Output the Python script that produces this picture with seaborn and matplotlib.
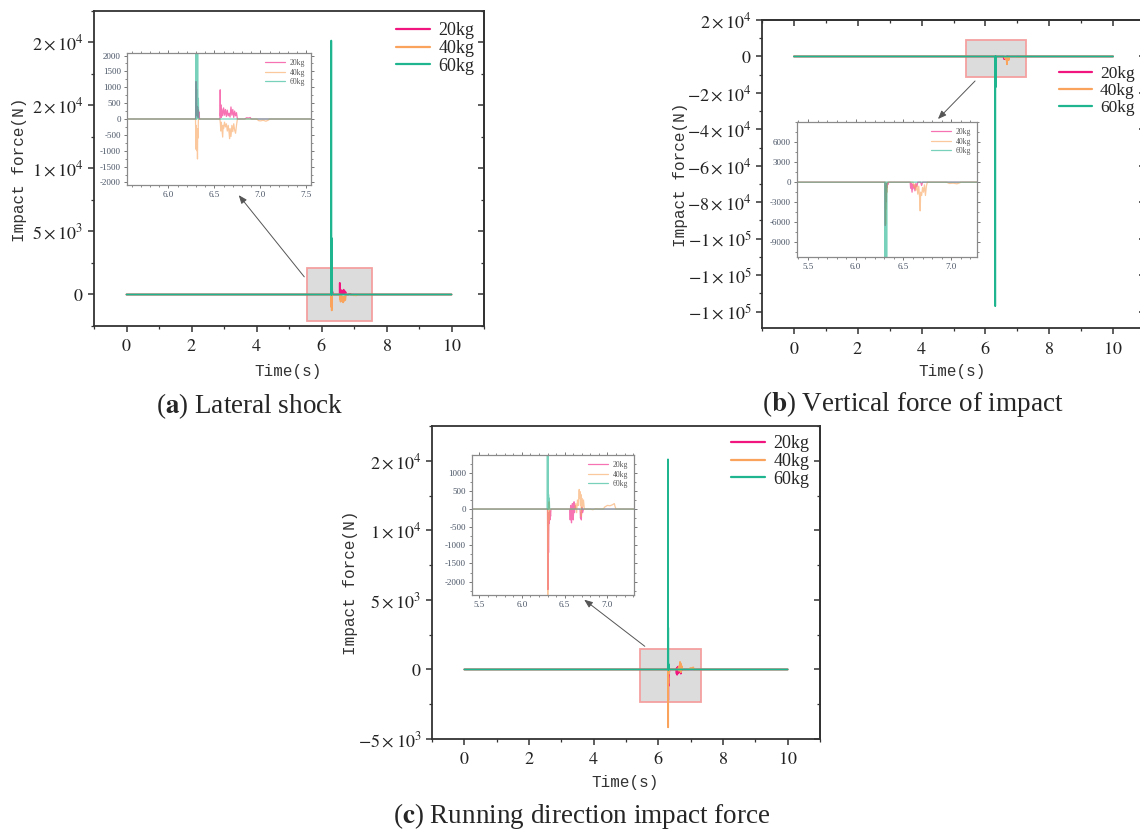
import matplotlib
matplotlib.use("Agg")
import matplotlib.pyplot as plt
import seaborn as sns
from matplotlib.patches import Rectangle, FancyArrowPatch
from matplotlib.ticker import MultipleLocator, FixedLocator, NullFormatter

sns.set_style("ticks")
plt.rcParams["font.family"] = ["Liberation Serif", "DejaVu Serif"]
plt.rcParams["mathtext.fontset"] = "stix"
plt.rcParams["axes.unicode_minus"] = True

# ---------------- data (time s, force N) ----------------
labels = ["20kg", "40kg", "60kg"]
colors = ["#f0157f", "#f9a35c", "#1fb58f"]

a_20 = [(0, 0), (6.295, 0), (6.300, 1180), (6.303, 200), (6.306, 950), (6.309, 100), (6.312, 400),
        (6.315, 150), (6.318, 380), (6.322, 50), (6.326, 280), (6.330, 60), (6.334, 220), (6.338, 0),
        (6.560, 0), (6.563, 920), (6.566, 100), (6.570, 450), (6.575, 50), (6.580, 320), (6.590, 100),
        (6.600, 350), (6.610, 120), (6.620, 300), (6.630, 80), (6.640, 280), (6.650, 100), (6.660, 180),
        (6.670, 60), (6.680, 380), (6.690, 120), (6.700, 300), (6.710, 50), (6.720, 250), (6.730, 100),
        (6.740, 200), (6.750, 0), (6.830, 0), (6.850, 40), (6.870, 30), (6.890, 45), (6.900, 0), (10, 0)]
a_40 = [(0, 0), (6.295, 0), (6.298, -950), (6.301, -200), (6.304, -800), (6.307, -300), (6.310, -1000),
        (6.313, -500), (6.316, -1260), (6.319, -300), (6.322, -600), (6.326, 0), (6.560, 0),
        (6.565, -150), (6.570, -380), (6.575, -100), (6.580, -250), (6.590, -570), (6.595, -200),
        (6.600, -300), (6.610, -100), (6.620, -250), (6.630, -150), (6.640, -380), (6.650, -200),
        (6.660, -450), (6.665, -620), (6.670, -300), (6.680, -550), (6.690, -200), (6.700, -400),
        (6.710, -150), (6.720, -350), (6.730, -450), (6.740, -200), (6.750, 0), (6.960, 0),
        (6.980, -50), (7.000, -60), (7.030, -40), (7.060, -70), (7.090, -30), (7.100, 0), (10, 0)]
a_60 = [(0, 0), (6.297, 0), (6.300, 20150), (6.303, 0), (6.306, 4500), (6.309, 0), (6.312, 3000),
        (6.315, 200), (6.318, 2500), (6.321, 100), (6.326, 650), (6.330, 0), (10, 0)]

b_20 = [(0, 0), (6.305, 0), (6.310, -6500), (6.313, -1000), (6.316, -3000), (6.319, -500),
        (6.322, -1500), (6.326, -200), (6.330, -800), (6.335, -100), (6.340, -300), (6.345, 0),
        (6.570, 0), (6.575, -900), (6.580, -200), (6.590, -1500), (6.595, -300), (6.600, -1000),
        (6.610, -400), (6.620, -1300), (6.630, -200), (6.640, -700), (6.650, 0), (6.680, 0),
        (6.690, -500), (6.700, 0), (10, 0)]
b_40 = [(0, 0), (6.310, 0), (6.313, -6300), (6.316, -2000), (6.320, -4000), (6.324, -500),
        (6.328, -1500), (6.332, 0), (6.600, 0), (6.610, -800), (6.620, -300), (6.630, -1200),
        (6.640, -500), (6.650, -1800), (6.660, -600), (6.670, -2500), (6.675, -4300), (6.680, -1500),
        (6.690, -2000), (6.700, -800), (6.710, -1500), (6.720, -400), (6.730, -2000), (6.740, -600),
        (6.750, 0), (6.950, 0), (6.980, -200), (7.020, -150), (7.060, -250), (7.090, -100),
        (7.100, 0), (10, 0)]
b_60 = [(0, 0), (6.304, 0), (6.307, -137000), (6.310, 0), (6.321, 0), (6.324, -16800),
        (6.327, 0), (10, 0)]

c_20 = [(0, 0), (6.300, 0), (6.305, -2220), (6.308, -300), (6.312, -1200), (6.316, -100),
        (6.320, -400), (6.324, -50), (6.328, -300), (6.332, -100), (6.336, -200), (6.340, 0),
        (6.560, 0), (6.565, -300), (6.570, 100), (6.575, -150), (6.580, -380), (6.585, -100),
        (6.590, 150), (6.595, -50), (6.600, -300), (6.610, 200), (6.615, -100), (6.620, 100),
        (6.630, 0), (6.680, 0), (6.685, -250), (6.690, -100), (6.695, -300), (6.700, 50),
        (6.710, -100), (6.720, 0), (10, 0)]
c_40 = [(0, 0), (6.300, 0), (6.303, -4160), (6.306, -600), (6.310, -1000), (6.314, -200),
        (6.318, 200), (6.322, -300), (6.326, 0), (6.620, 0), (6.630, 150), (6.640, -100),
        (6.650, 250), (6.660, 100), (6.670, 540), (6.675, 300), (6.680, 480), (6.685, 100),
        (6.690, 400), (6.695, -200), (6.700, 300), (6.710, 50), (6.720, 250), (6.730, 0),
        (6.800, 0), (6.830, -20), (6.860, 10), (6.900, 0), (6.950, 0), (6.970, 60), (7.000, 100),
        (7.030, 90), (7.060, 120), (7.080, 150), (7.090, 60), (7.100, 0), (10, 0)]
c_60 = [(0, 0), (6.295, 0), (6.298, 15100), (6.302, 0), (6.305, 3000), (6.309, 0), (6.312, 400),
        (6.316, 0), (6.320, 300), (6.325, 0), (10, 0)]

# tick labels
a_yticks = [0, 5000, 10000, 15000, 20000]
a_ylabels = ["$0$", r"$5\times10^{3}$", r"$1\times10^{4}$", r"$2\times10^{4}$", r"$2\times10^{4}$"]
b_yticks = [20000, 0, -20000, -40000, -60000, -80000, -100000, -120000, -140000]
b_ylabels = [r"$2\times10^{4}$", "$0$", r"$-2\times10^{4}$", r"$-4\times10^{4}$", r"$-6\times10^{4}$",
             r"$-8\times10^{4}$", r"$-1\times10^{5}$", r"$-1\times10^{5}$", r"$-1\times10^{5}$"]
c_yticks = [-5000, 0, 5000, 10000, 15000]
c_ylabels = [r"$-5\times10^{3}$", "$0$", r"$5\times10^{3}$", r"$1\times10^{4}$", r"$2\times10^{4}$"]
main_xticks = [0, 2, 4, 6, 8, 10]
a_in_yticks = [-2000, -1500, -1000, -500, 0, 500, 1000, 1500, 2000]
b_in_yticks = [-9000, -6000, -3000, 0, 3000, 6000]
c_in_yticks = [-2000, -1500, -1000, -500, 0, 500, 1000]
a_in_xticks = [6.0, 6.5, 7.0, 7.5]
bc_in_xticks = [5.5, 6.0, 6.5, 7.0]

W, H = 1140, 831
fig = plt.figure(figsize=(W / 100, H / 100), dpi=100)


def rect(x0, y0, x1, y1):
    return [x0 / W, 1 - y1 / H, (x1 - x0) / W, (y1 - y0) / H]


def draw(ax, series, lw, alpha):
    for s, lab, col in zip(series, labels, colors):
        t = [p[0] for p in s]
        v = [p[1] for p in s]
        sns.lineplot(x=t, y=v, ax=ax, color=col, lw=lw, alpha=alpha, label=lab,
                     estimator=None, sort=False, legend=False)
    ax.set_xlabel("")
    ax.set_ylabel("")


ident = (lambda x: x, lambda x: x)


def style_main(ax, yticks, ylabels, ylim, yminor, top_ticks=False):
    ax.set_xlim(-1, 11)
    ax.set_ylim(*ylim)
    ax.xaxis.set_major_locator(FixedLocator(main_xticks))
    ax.set_xticklabels([f"${t}$" for t in main_xticks])
    ax.xaxis.set_minor_locator(MultipleLocator(1))
    ax.yaxis.set_major_locator(FixedLocator(yticks))
    ax.set_yticklabels(ylabels)
    ax.yaxis.set_minor_locator(MultipleLocator(yminor))
    for sp in ax.spines.values():
        sp.set_visible(True)
        sp.set_color("#333333")
        sp.set_linewidth(1.3)
    ax.tick_params(axis="both", which="major", direction="out", length=4, width=1.1,
                   labelsize=13, colors="#333333", labelcolor="#222222")
    ax.tick_params(axis="both", which="minor", direction="out", length=2.5, width=0.9, colors="#333333")
    ax.tick_params(axis="x", which="both", pad=5, top=False)
    ax.tick_params(axis="y", which="both", right=False)
    # inward ticks on the right side
    sy = ax.secondary_yaxis("right", functions=ident)
    sy.yaxis.set_major_locator(FixedLocator(yticks))
    sy.yaxis.set_minor_locator(MultipleLocator(yminor))
    sy.yaxis.set_major_formatter(NullFormatter())
    sy.tick_params(which="major", direction="in", length=4, width=1.1, colors="#333333")
    sy.tick_params(which="minor", direction="in", length=2.5, width=0.9, colors="#333333")
    sy.spines["right"].set_color("#333333")
    sy.spines["right"].set_linewidth(1.3)
    if top_ticks:
        sx = ax.secondary_xaxis("top", functions=ident)
        sx.xaxis.set_major_locator(FixedLocator(main_xticks))
        sx.xaxis.set_minor_locator(MultipleLocator(1))
        sx.xaxis.set_major_formatter(NullFormatter())
        sx.tick_params(which="major", direction="in", length=4, width=1.1, colors="#333333")
        sx.tick_params(which="minor", direction="in", length=2.5, width=0.9, colors="#333333")
        sx.spines["top"].set_color("#333333")
        sx.spines["top"].set_linewidth(1.3)


def style_inset(ax, xlim, ylim, xticks, yticks, xminor, yminor):
    ax.set_xlim(*xlim)
    ax.set_ylim(*ylim)
    ax.xaxis.set_major_locator(FixedLocator(xticks))
    ax.set_xticklabels([f"{t:.1f}" for t in xticks])
    ax.yaxis.set_major_locator(FixedLocator(yticks))
    ax.set_yticklabels([str(t) for t in yticks])
    ax.xaxis.set_minor_locator(MultipleLocator(xminor))
    ax.yaxis.set_minor_locator(MultipleLocator(yminor))
    for sp in ax.spines.values():
        sp.set_visible(True)
        sp.set_color("#8a8a8a")
        sp.set_linewidth(0.9)
    ax.tick_params(axis="both", which="major", direction="out", length=2.5, width=0.7,
                   labelsize=6.5, colors="#777777", labelcolor="#4a5566", pad=2)
    ax.tick_params(axis="both", which="minor", direction="out", length=1.5, width=0.6, colors="#777777")
    ax.tick_params(axis="both", which="both", top=True, right=True)
    ax.legend(loc="upper right", fontsize=5.5, frameon=False, handlelength=2.6,
              handletextpad=0.6, labelspacing=0.2, borderaxespad=0.4)
    for txt in ax.get_legend().get_texts():
        txt.set_color("#555555")


def main_legend(ax, x, y, fs=13):
    leg = ax.legend(loc="upper left", bbox_to_anchor=(x / W, 1 - y / H), bbox_transform=fig.transFigure,
                    fontsize=fs, frameon=False, handlelength=1.9, handletextpad=0.45,
                    labelspacing=0.05, borderaxespad=0, borderpad=0)
    for line in leg.get_lines():
        line.set_linewidth(1.6)
        line.set_alpha(1)


def zoom_rect(ax, x0, y0, x1, y1):
    ax.add_patch(Rectangle((x0, y0), x1 - x0, y1 - y0, facecolor="#dcdcdc", edgecolor="#f4a0a0",
                           lw=1.3, zorder=0.5))


def arrow(p_from, p_to):
    fig.add_artist(FancyArrowPatch((p_from[0] / W, 1 - p_from[1] / H), (p_to[0] / W, 1 - p_to[1] / H),
                                   transform=fig.transFigure, arrowstyle="-|>,head_length=5,head_width=2",
                                   color="#555555", lw=0.7, mutation_scale=1, zorder=10))


mono = ["Liberation Mono", "DejaVu Sans Mono"]
CAP = 19.5

# ---------------- panel (a) ----------------
axa = fig.add_axes(rect(94, 11, 484, 326))
draw(axa, [a_20, a_40, a_60], 1.3, 1.0)
style_main(axa, a_yticks, a_ylabels, (-2500, 22500), 2500)
zoom_rect(axa, 5.55, -2080, 7.55, 2080)
main_legend(axa, 396, 22)

axa_in = fig.add_axes(rect(127, 53, 311, 185))
draw(axa_in, [a_20, a_40, a_60], 0.9, 0.6)
style_inset(axa_in, (5.55, 7.55), (-2080, 2080), a_in_xticks, a_in_yticks, 0.1, 250)
arrow((306, 279), (237, 193))

fig.text(20 / W, 1 - 170 / H, "Impact force(N)", rotation=90, ha="center", va="center",
         fontsize=11.5, family=mono, color="#333333")
fig.text(288 / W, 1 - 372 / H, "Time(s)", ha="center", va="center", fontsize=11.5, family=mono,
         color="#333333")
fig.text(250 / W, 1 - 406 / H, r"($\mathbf{a}$) Lateral shock", ha="center", va="center", fontsize=CAP)

# ---------------- panel (b) ----------------
axb = fig.add_axes(rect(762, 20, 1145, 328))
draw(axb, [b_20, b_40, b_60], 1.3, 1.0)
style_main(axb, b_yticks, b_ylabels, (-149000, 20000), 10000, top_ticks=True)
zoom_rect(axb, 5.385, -11200, 7.27, 9000)
main_legend(axb, 1059, 66, fs=12.5)

axb_in = fig.add_axes(rect(797, 122, 977, 257))
draw(axb_in, [b_20, b_40, b_60], 0.9, 0.6)
style_inset(axb_in, (5.385, 7.27), (-11200, 9000), bc_in_xticks, b_in_yticks, 0.1, 1500)
arrow((977, 79), (936, 121))

fig.text(681 / W, 1 - 175 / H, "Impact force(N)", rotation=90, ha="center", va="center",
         fontsize=11.5, family=mono, color="#333333")
fig.text(952 / W, 1 - 372 / H, "Time(s)", ha="center", va="center", fontsize=11.5, family=mono,
         color="#333333")
fig.text(913 / W, 1 - 404 / H, r"($\mathbf{b}$) Vertical force of impact", ha="center", va="center",
         fontsize=CAP)

# ---------------- panel (c) ----------------
axc = fig.add_axes(rect(432, 426, 820, 739))
draw(axc, [c_20, c_40, c_60], 1.3, 1.0)
style_main(axc, c_yticks, c_ylabels, (-5000, 17500), 2500)
zoom_rect(axc, 5.418, -2370, 7.31, 1490)
main_legend(axc, 731, 435)

axc_in = fig.add_axes(rect(472, 455, 634, 595))
draw(axc_in, [c_20, c_40, c_60], 0.9, 0.6)
style_inset(axc_in, (5.418, 7.31), (-2370, 1490), bc_in_xticks, c_in_yticks, 0.1, 250)
arrow((647, 648), (582, 598))

fig.text(350 / W, 1 - 583 / H, "Impact force(N)", rotation=90, ha="center", va="center",
         fontsize=11.5, family=mono, color="#333333")
fig.text(625 / W, 1 - 783 / H, "Time(s)", ha="center", va="center", fontsize=11.5, family=mono,
         color="#333333")
fig.text(582 / W, 1 - 816 / H, r"($\mathbf{c}$) Running direction impact force", ha="center",
         va="center", fontsize=CAP)

fig.savefig("out.png", dpi=100)
